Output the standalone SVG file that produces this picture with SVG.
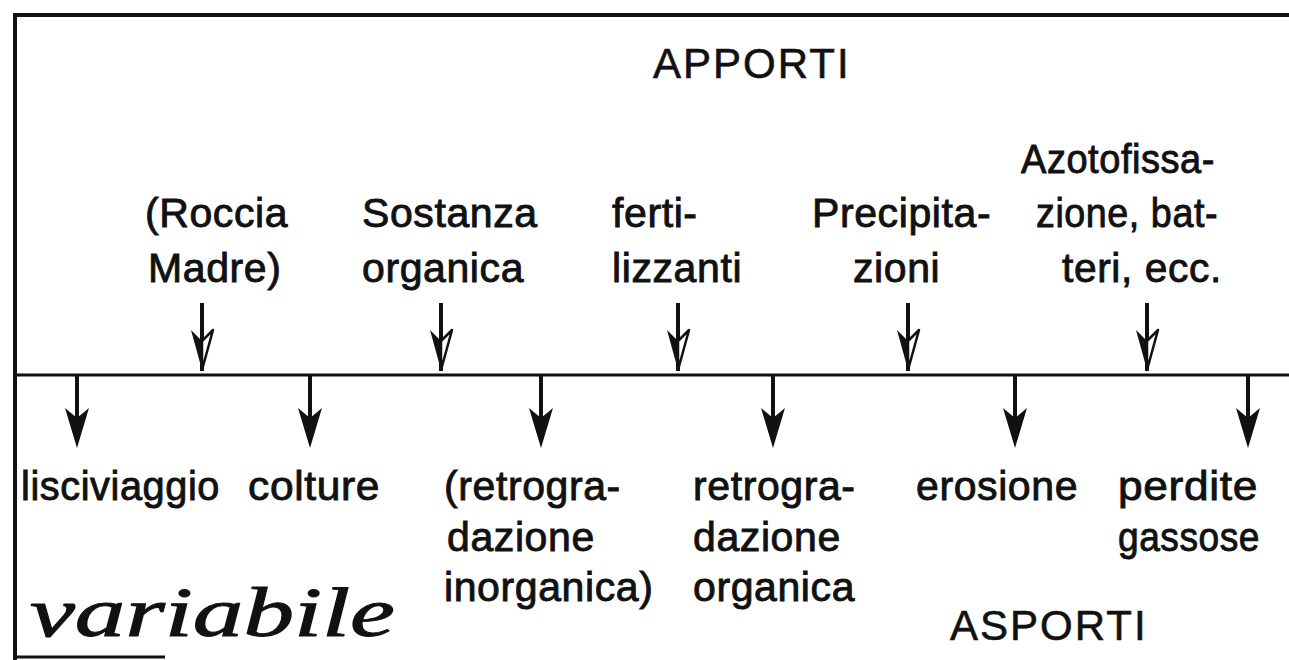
<svg xmlns="http://www.w3.org/2000/svg" xmlns:xlink="http://www.w3.org/1999/xlink" width="1289" height="660" viewBox="0 0 1289 660">
<style>
.t{font-family:"Liberation Sans",Arial,sans-serif;font-size:41px;fill:#111;stroke:#111;stroke-width:0.9px;letter-spacing:0.6px}
.h{font-family:"Liberation Sans",Arial,sans-serif;font-size:42px;fill:#111;stroke:#111;stroke-width:0.6px;letter-spacing:2px}
.hw{font-family:"Liberation Serif","DejaVu Serif",serif;font-style:italic;font-size:70px;fill:#111;stroke:#111;stroke-width:1px}
.ln{stroke:#111;fill:none}
</style>
<defs>
<g id="arrIn">
<line x1="0" y1="303" x2="0" y2="371" stroke="#111" stroke-width="4"/>
<path d="M-11,330 L0,370 L0,341 Z" fill="#111"/>
<path d="M11,330 L0,370 L0,341 Z" fill="#fff" stroke="#111" stroke-width="2.5" stroke-linejoin="round"/>
</g>
<g id="arrOut">
<line x1="0" y1="375" x2="0" y2="430" stroke="#111" stroke-width="4"/>
<path d="M-12,408 L0,418 L12,408 L0,448 Z" fill="#111"/>
</g>
</defs>
<g id="frame">
<line class="ln" x1="13" y1="15" x2="1289" y2="15" stroke-width="4"/>
<line class="ln" x1="15" y1="13" x2="15" y2="660" stroke-width="4"/>
<line class="ln" x1="13" y1="657" x2="165" y2="657" stroke-width="3"/>
<line class="ln" x1="15" y1="375" x2="1289" y2="375" stroke-width="3"/>
</g>
<g id="connectors">
<use xlink:href="#arrIn" x="202"/>
<use xlink:href="#arrIn" x="441"/>
<use xlink:href="#arrIn" x="678"/>
<use xlink:href="#arrIn" x="908"/>
<use xlink:href="#arrIn" x="1147"/>
<use xlink:href="#arrOut" x="77"/>
<use xlink:href="#arrOut" x="310"/>
<use xlink:href="#arrOut" x="541"/>
<use xlink:href="#arrOut" x="773"/>
<use xlink:href="#arrOut" x="1015"/>
<use xlink:href="#arrOut" x="1248"/>
</g>
<g id="apporti"><text class="h" x="653" y="78">APPORTI</text></g>
<g id="roccia"><text class="t" x="145" y="227">(Roccia</text><text class="t" x="148" y="282">Madre)</text></g>
<g id="sostanza"><text class="t" x="362" y="227">Sostanza</text><text class="t" x="362" y="282">organica</text></g>
<g id="fertilizzanti"><text class="t" x="612" y="227">ferti-</text><text class="t" x="612" y="282">lizzanti</text></g>
<g id="precipitazioni"><text class="t" x="812" y="227">Precipita-</text><text class="t" x="853" y="282">zioni</text></g>
<g id="azotofissazione"><text class="t" x="1021" y="173" textLength="194" lengthAdjust="spacingAndGlyphs">Azotofissa-</text><text class="t" x="1036" y="227" textLength="182" lengthAdjust="spacingAndGlyphs">zione, bat-</text><text class="t" x="1062" y="282" textLength="160" lengthAdjust="spacingAndGlyphs">teri, ecc.</text></g>
<g id="lisciviaggio"><text class="t" x="21" y="500" textLength="199" lengthAdjust="spacingAndGlyphs">lisciviaggio</text></g>
<g id="colture"><text class="t" x="248" y="500" textLength="132" lengthAdjust="spacingAndGlyphs">colture</text></g>
<g id="retro-inorg"><text class="t" x="444" y="500">(retrogra-</text><text class="t" x="447" y="551">dazione</text><text class="t" x="444" y="601">inorganica)</text></g>
<g id="retro-org"><text class="t" x="693" y="500">retrogra-</text><text class="t" x="693" y="551">dazione</text><text class="t" x="693" y="601">organica</text></g>
<g id="erosione"><text class="t" x="916" y="500">erosione</text></g>
<g id="perdite"><text class="t" x="1118" y="500" textLength="140" lengthAdjust="spacingAndGlyphs">perdite</text><text class="t" x="1118" y="551" textLength="142" lengthAdjust="spacingAndGlyphs">gassose</text></g>
<g id="asporti"><text class="h" x="950" y="640">ASPORTI</text></g>
<g id="variabile"><text class="hw" x="30" y="636" textLength="365" lengthAdjust="spacingAndGlyphs">variabile</text></g>
</svg>
